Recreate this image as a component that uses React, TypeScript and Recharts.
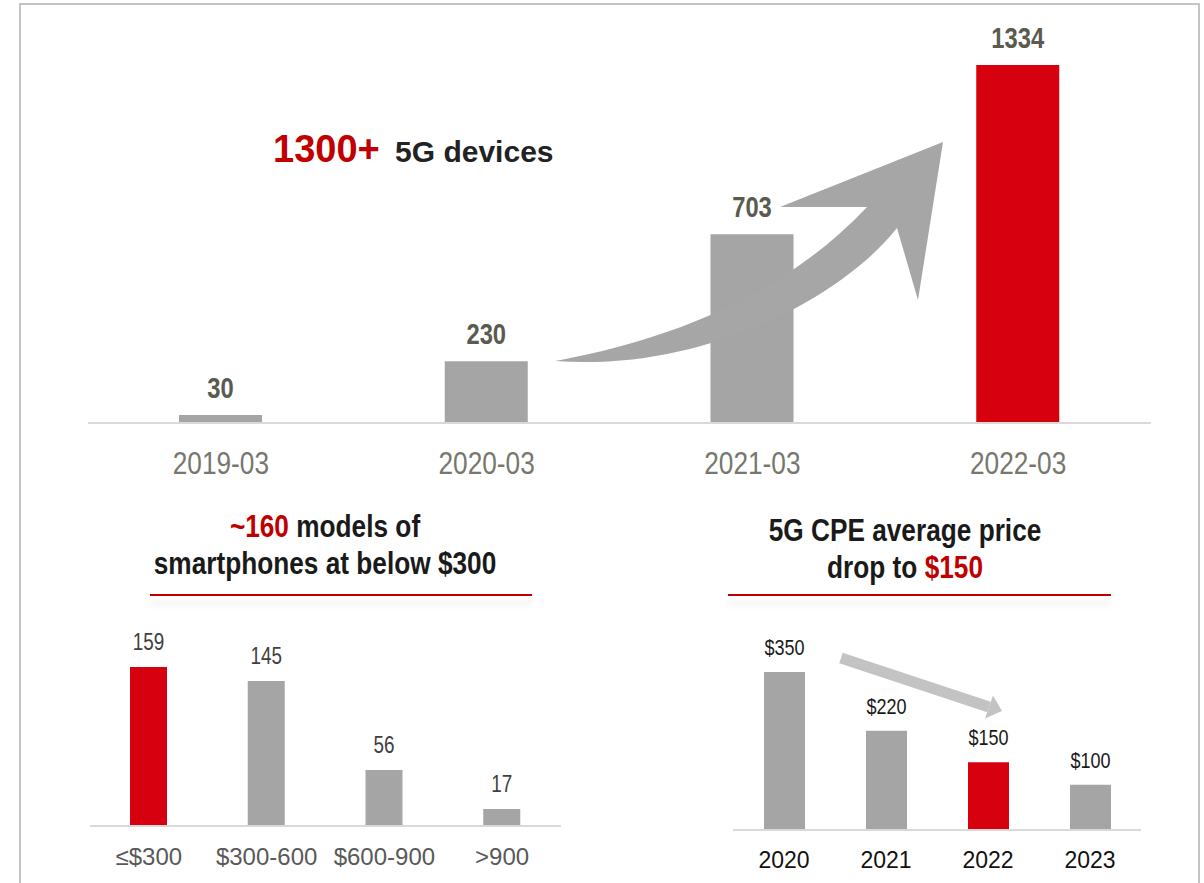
import React from 'react';
import { BarChart, Bar, XAxis, YAxis, Cell, LabelList } from 'recharts';

// top: 5G device count
const deviceMonths = ['2019-03', '2020-03', '2021-03', '2022-03'];
const deviceCounts = [30, 230, 703, 1334];

// bottom left: smartphone models by price band
const priceBands = ['≤$300', '$300-600', '$600-900', '>900'];
const phoneModels = [159, 145, 56, 17];

// bottom right: CPE average price
const cpeYears = ['2020', '2021', '2022', '2023'];
const cpePrices = [350, 220, 150, 100];
const cpePriceLabels = ['$350', '$220', '$150', '$100'];

const GRAY = '#a5a5a5';
const RED = '#d7000f';
const SANS = '"Liberation Sans", Arial, sans-serif';
const SQUEEZE = 0.82; // no Arial Narrow here, so condense Liberation Sans

const deviceData = deviceMonths.map((m, i) => ({ name: m, value: deviceCounts[i] }));
const phoneData = priceBands.map((b, i) => ({ name: b, value: phoneModels[i] }));
const cpeData = cpeYears.map((y, i) => ({ name: y, value: cpePrices[i], label: cpePriceLabels[i] }));

type NarrowProps = {
  x: number;
  y: number;
  size: number;
  fill: string;
  weight?: string;
  children: React.ReactNode;
};

const Narrow = ({ x, y, size, fill, weight = 'normal', children }: NarrowProps) => (
  <text
    transform={`translate(${x},${y}) scale(${SQUEEZE},1)`}
    textAnchor="middle"
    fontSize={size}
    fill={fill}
    fontWeight={weight}
    fontFamily={SANS}
  >
    {children}
  </text>
);

const plainTick = (dy: number, size: number, color: string) => (props: any) => (
  <text x={props.x} y={props.y + dy} textAnchor="middle" fontSize={size} fill={color} fontFamily={SANS}>
    {props.payload.value}
  </text>
);

const narrowTick = (dy: number, size: number, color: string) => (props: any) => (
  <Narrow x={props.x} y={props.y + dy} size={size} fill={color}>
    {props.payload.value}
  </Narrow>
);

const narrowLabel = (offset: number, size: number, color: string, weight = 'normal') => (props: any) => {
  const x = Number(props.x) + Number(props.width) / 2;
  const y = Number(props.y) - offset;
  return (
    <Narrow x={x} y={y} size={size} fill={color} weight={weight}>
      {props.value}
    </Narrow>
  );
};

const axisLine = { stroke: '#d9d9d9', strokeWidth: 2 };

const Underline = ({ left, width }: { left: number; width: number }) => (
  <div
    style={{
      position: 'absolute',
      left,
      top: 594,
      width,
      height: 2,
      background: '#c00000',
      boxShadow: '0 8px 7px rgba(0,0,0,0.13)',
    }}
  />
);

export default function App() {
  return (
    <div style={{ position: 'absolute', left: 0, top: 0, width: 1204, height: 883, overflow: 'hidden', background: '#fff' }}>
      {/* frame */}
      <div style={{ position: 'absolute', left: 19, top: 3, width: 1177, height: 920, border: '2px solid #c4c4c4' }} />

      <div style={{ position: 'absolute', left: 0, top: 0 }}>
        <BarChart width={1204} height={500} data={deviceData} margin={{ top: 65, right: 53, left: 88, bottom: 0 }}>
          <YAxis hide domain={[0, 1334]} allowDataOverflow />
          <XAxis
            dataKey="name"
            height={77}
            axisLine={axisLine}
            tickLine={false}
            tickSize={0}
            tickMargin={0}
            tick={narrowTick(51, 32, '#77776d')}
            interval={0}
          />
          <Bar dataKey="value" barSize={83} isAnimationActive={false}>
            {deviceData.map((d, i) => (
              <Cell key={d.name} fill={i === 3 ? RED : GRAY} />
            ))}
            <LabelList dataKey="value" content={narrowLabel(17, 29, '#5a5a4e', 'bold')} />
          </Bar>
        </BarChart>
      </div>

      <div style={{ position: 'absolute', left: 0, top: 600 }}>
        <BarChart width={620} height={283} data={phoneData} margin={{ top: 67, right: 59, left: 90, bottom: 0 }}>
          <YAxis hide domain={[0, 159]} allowDataOverflow />
          <XAxis
            dataKey="name"
            height={57}
            axisLine={axisLine}
            tickLine={false}
            tickSize={0}
            tickMargin={0}
            tick={plainTick(39, 24, '#595959')}
            interval={0}
          />
          <Bar dataKey="value" barSize={37} isAnimationActive={false}>
            {phoneData.map((d, i) => (
              <Cell key={d.name} fill={i === 0 ? RED : GRAY} />
            ))}
            <LabelList dataKey="value" content={narrowLabel(17, 23, '#404040')} />
          </Bar>
        </BarChart>
      </div>

      <div style={{ position: 'absolute', left: 620, top: 600 }}>
        <BarChart width={584} height={283} data={cpeData} margin={{ top: 72, right: 63, left: 113, bottom: 0 }}>
          <YAxis hide domain={[0, 350]} allowDataOverflow />
          <XAxis
            dataKey="name"
            height={53}
            axisLine={axisLine}
            tickLine={false}
            tickSize={0}
            tickMargin={0}
            tick={plainTick(38, 23, '#111111')}
            interval={0}
          />
          <Bar dataKey="value" barSize={41} isAnimationActive={false}>
            {cpeData.map((d, i) => (
              <Cell key={d.name} fill={i === 2 ? RED : GRAY} />
            ))}
            <LabelList dataKey="label" content={narrowLabel(17, 22, '#1a1a1a')} />
          </Bar>
        </BarChart>
      </div>

      <Underline left={150} width={382} />
      <Underline left={728} width={383} />

      <svg width={1204} height={883} style={{ position: 'absolute', left: 0, top: 0, pointerEvents: 'none' }}>
        {/* growth arrow */}
        <path
          d="M 555 361 C 640 345 770 310 867 207 L 780 207 L 943 142 L 918 300 L 897 228 C 840 300 700 372 555 361 Z"
          fill="#a6a6a6"
        />
        {/* price drop arrow */}
        <line x1={841} y1={658} x2={989} y2={707} stroke="#c3c3c3" strokeWidth={11} />
        <polygon points="993,695.6 1002,711 985,718.4" fill="#c3c3c3" />

        <text x={273} y={162} fontFamily={SANS} fontWeight="bold">
          <tspan fontSize={38} fill="#c00000">1300+</tspan>
          <tspan fontSize={30} fill="#222222" dx={7}> 5G devices</tspan>
        </text>

        <Narrow x={325} y={537} size={32} fill="#1a1a1a" weight="bold">
          <tspan fill="#c00000">~160</tspan>
          <tspan> models of</tspan>
        </Narrow>
        <Narrow x={325} y={574} size={32} fill="#1a1a1a" weight="bold">
          smartphones at below $300
        </Narrow>

        <Narrow x={905} y={541} size={32} fill="#1a1a1a" weight="bold">
          5G CPE average price
        </Narrow>
        <Narrow x={905} y={578} size={32} fill="#1a1a1a" weight="bold">
          <tspan>drop to </tspan>
          <tspan fill="#c00000">$150</tspan>
        </Narrow>
      </svg>
    </div>
  );
}
